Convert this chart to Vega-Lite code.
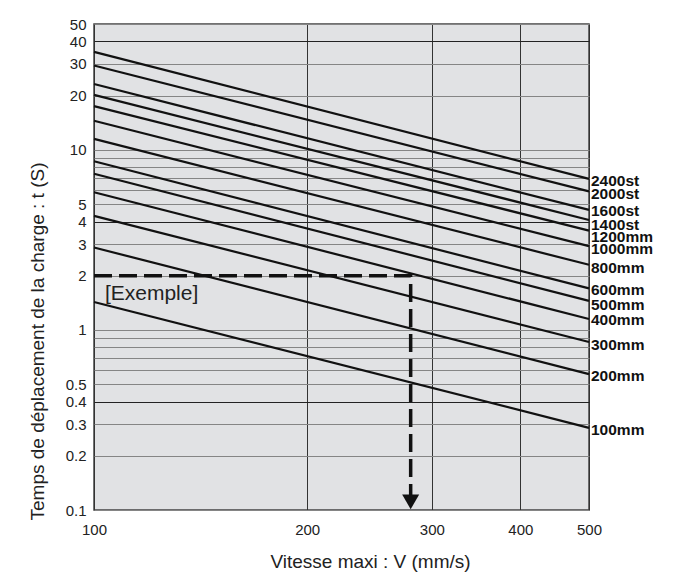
{
  "$schema": "https://vega.github.io/schema/vega-lite/v6.json",
  "width": 495,
  "height": 486,
  "autosize": {"type": "none"},
  "padding": {"left": 94, "top": 24, "right": 95, "bottom": 63},
  "background": "white",
  "config": {
    "font": "Liberation Sans",
    "view": {"fill": "#e1e2e4", "stroke": "#444", "strokeWidth": 1.5}
  },
  "datasets": {
    "curves": [
      {"stroke": "2400st", "v": 100, "t": 35.0}, {"stroke": "2400st", "v": 500, "t": 6.9},
      {"stroke": "2000st", "v": 100, "t": 29.4}, {"stroke": "2000st", "v": 500, "t": 5.88},
      {"stroke": "1600st", "v": 100, "t": 23.2}, {"stroke": "1600st", "v": 500, "t": 4.64},
      {"stroke": "1400st", "v": 100, "t": 20.2}, {"stroke": "1400st", "v": 500, "t": 4.08},
      {"stroke": "1200mm", "v": 100, "t": 17.5}, {"stroke": "1200mm", "v": 500, "t": 3.56},
      {"stroke": "1000mm", "v": 100, "t": 14.5}, {"stroke": "1000mm", "v": 500, "t": 2.92},
      {"stroke": "800mm", "v": 100, "t": 11.5}, {"stroke": "800mm", "v": 500, "t": 2.3},
      {"stroke": "600mm", "v": 100, "t": 8.65}, {"stroke": "600mm", "v": 500, "t": 1.7},
      {"stroke": "500mm", "v": 100, "t": 7.37}, {"stroke": "500mm", "v": 500, "t": 1.45},
      {"stroke": "400mm", "v": 100, "t": 5.82}, {"stroke": "400mm", "v": 500, "t": 1.15},
      {"stroke": "300mm", "v": 100, "t": 4.3}, {"stroke": "300mm", "v": 500, "t": 0.857},
      {"stroke": "200mm", "v": 100, "t": 2.87}, {"stroke": "200mm", "v": 500, "t": 0.568},
      {"stroke": "100mm", "v": 100, "t": 1.43}, {"stroke": "100mm", "v": 500, "t": 0.286}
    ],
    "labels": [
      {"label": "2400st", "v": 500, "t": 6.75},
      {"label": "2000st", "v": 500, "t": 5.68},
      {"label": "1600st", "v": 500, "t": 4.56},
      {"label": "1400st", "v": 500, "t": 3.83},
      {"label": "1200mm", "v": 500, "t": 3.27},
      {"label": "1000mm", "v": 500, "t": 2.81},
      {"label": "800mm", "v": 500, "t": 2.22},
      {"label": "600mm", "v": 500, "t": 1.66},
      {"label": "500mm", "v": 500, "t": 1.37},
      {"label": "400mm", "v": 500, "t": 1.13},
      {"label": "300mm", "v": 500, "t": 0.824},
      {"label": "200mm", "v": 500, "t": 0.556},
      {"label": "100mm", "v": 500, "t": 0.277}
    ],
    "example": [
      {"i": 1, "v": 100, "t": 2},
      {"i": 2, "v": 280, "t": 2},
      {"i": 3, "v": 280, "t": 0.118}
    ],
    "arrow": [{"v": 280, "t": 0.111}],
    "note": [{"text": "[Exemple]", "v": 103.6, "t": 1.59}]
  },
  "encoding": {
    "x": {
      "field": "v",
      "type": "quantitative",
      "scale": {"type": "log", "domain": [100, 500], "nice": false, "zero": false},
      "axis": {
        "values": [100, 200, 300, 400, 500],
        "format": "d",
        "title": "Vitesse maxi : V (mm/s)",
        "titleFontSize": 19,
        "titleFontWeight": "normal",
        "titleColor": "#222",
        "titleBaseline": "alphabetic",
        "titleX": 276,
        "titleY": 57,
        "labelFontSize": 15,
        "labelColor": "#222",
        "labelPadding": 12,
        "labelFlush": false,
        "ticks": false,
        "domain": false,
        "grid": true,
        "gridColor": "#333",
        "gridWidth": 1
      }
    },
    "y": {
      "field": "t",
      "type": "quantitative",
      "scale": {"type": "log", "domain": [0.1, 50], "nice": false, "zero": false},
      "axis": {
        "values": [0.1, 0.2, 0.3, 0.4, 0.5, 0.6, 0.7, 0.8, 0.9, 1, 2, 3, 4, 5, 6, 7, 8, 9, 10, 20, 30, 40, 50],
        "format": "~g",
        "labelExpr": "indexof([0.6, 0.7, 0.8, 0.9, 6, 7, 8, 9], datum.value) >= 0 ? '' : datum.label",
        "title": "Temps de déplacement de la charge : t (S)",
        "titleFontSize": 19,
        "titleFontWeight": "normal",
        "titleColor": "#222",
        "titleBaseline": "alphabetic",
        "titleX": -51,
        "titleY": 317,
        "labelFontSize": 15,
        "labelColor": "#222",
        "labelPadding": 8,
        "labelFlush": false,
        "labelOverlap": false,
        "ticks": false,
        "domain": false,
        "grid": true,
        "gridColor": {"condition": {"test": "datum.value === 4 || datum.value === 40 || datum.value === 0.4", "value": "#222"}, "value": "#858585"},
        "gridWidth": 1
      }
    }
  },
  "layer": [
    {
      "data": {"name": "curves"},
      "mark": {"type": "line", "stroke": "#111", "strokeWidth": 2.2},
      "encoding": {"detail": {"field": "stroke"}}
    },
    {
      "data": {"name": "example"},
      "mark": {"type": "line", "stroke": "#111", "strokeWidth": 3.5, "strokeDash": [18, 7]},
      "encoding": {"order": {"field": "i", "type": "quantitative"}}
    },
    {
      "data": {"name": "arrow"},
      "mark": {"type": "point", "shape": "triangle-down", "size": 290, "filled": true, "fill": "#111", "stroke": null, "opacity": 1}
    },
    {
      "data": {"name": "labels"},
      "mark": {"type": "text", "align": "left", "baseline": "middle", "dx": 2, "fontSize": 15.5, "fontWeight": "bold", "fill": "#111"},
      "encoding": {"text": {"field": "label"}}
    },
    {
      "data": {"name": "note"},
      "mark": {"type": "text", "align": "left", "baseline": "middle", "fontSize": 21, "fill": "#222"},
      "encoding": {"text": {"field": "text"}}
    }
  ]
}
